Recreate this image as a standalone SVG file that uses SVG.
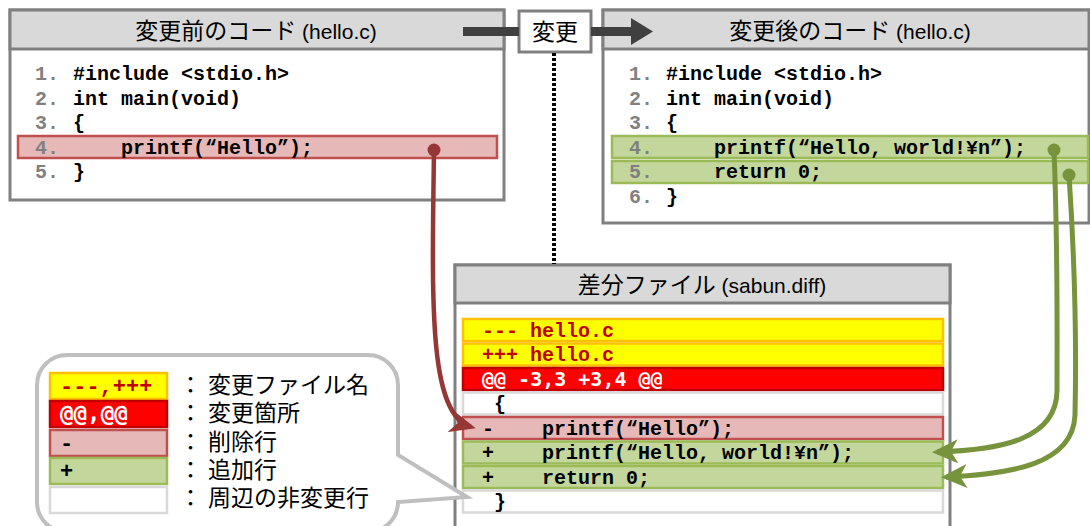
<svg xmlns="http://www.w3.org/2000/svg" width="1090" height="526" viewBox="0 0 1090 526">
<style>
.mono{font-family:"Liberation Mono","Courier New",monospace;font-weight:bold;font-size:20px;fill:#000}
.mono2{font-family:"DejaVu Sans Mono","Liberation Mono",monospace;font-weight:bold;font-size:20px}
.ln{fill:#808080}
.jp{font-family:"Noto Sans CJK JP","Noto Sans CJK SC",sans-serif;font-size:23px;fill:#000}
.lat{font-family:"Liberation Sans",Arial,sans-serif;font-size:21px;fill:#000}
.box{fill:#fff;stroke:#808080;stroke-width:3}
.hdr{fill:#d9d9d9;stroke:#808080;stroke-width:3}
.rowY{fill:#ffff00;stroke:#ffc000;stroke-width:2.5}
.rowR{fill:#ff0000;stroke:#c00000;stroke-width:2.5}
.rowP{fill:#e6b9b8;stroke:#c0504d;stroke-width:2.5}
.rowG{fill:#c3d69b;stroke:#9bbb59;stroke-width:2.5}
.rowW{fill:#fff;stroke:#d9d9d9;stroke-width:2.5}
.dr{fill:#c00000}
.wt{fill:#fff}
.red{fill:none;stroke:#953735;stroke-width:4.5}
.grn{fill:none;stroke:#77933c;stroke-width:5}
</style>
<defs>
<marker id="ahR" viewBox="0 0 26 22" refX="21" refY="11" markerWidth="26" markerHeight="22" markerUnits="userSpaceOnUse" orient="auto"><path d="M0,0 L26,11 L0,22 L7,11 Z" fill="#953735"/></marker>
<marker id="ahG" viewBox="0 0 26 24" refX="21" refY="12" markerWidth="26" markerHeight="24" markerUnits="userSpaceOnUse" orient="auto"><path d="M0,0 L26,12 L0,24 L7,12 Z" fill="#77933c"/></marker>
</defs>

<g id="before">
<rect class="box" x="10" y="10" width="494" height="190"/>
<rect class="hdr" x="10" y="10" width="494" height="39"/>
<text x="256" y="39" text-anchor="middle"><tspan class="jp">変更前のコード</tspan><tspan class="lat"> (hello.c)</tspan></text>
<rect class="rowP" x="18" y="136" width="479" height="22"/>
<text class="mono" y="80"><tspan class="ln" x="35">1.</tspan><tspan x="73">#include &lt;stdio.h&gt;</tspan></text>
<text class="mono" y="104.5"><tspan class="ln" x="35">2.</tspan><tspan x="73">int main(void)</tspan></text>
<text class="mono" y="129"><tspan class="ln" x="35">3.</tspan><tspan x="73">{</tspan></text>
<text class="mono" y="153.5"><tspan class="ln" x="35">4.</tspan><tspan x="121">printf(“Hello”);</tspan></text>
<text class="mono" y="178"><tspan class="ln" x="35">5.</tspan><tspan x="73">}</tspan></text>
</g>

<g id="after">
<rect class="box" x="603" y="10" width="486" height="213"/>
<rect class="hdr" x="603" y="10" width="486" height="39"/>
<text x="850" y="39" text-anchor="middle"><tspan class="jp">変更後のコード</tspan><tspan class="lat"> (hello.c)</tspan></text>
<rect class="rowG" x="612" y="136" width="476" height="22"/>
<rect class="rowG" x="612" y="161" width="476" height="22"/>
<text class="mono" y="80"><tspan class="ln" x="629">1.</tspan><tspan x="666">#include &lt;stdio.h&gt;</tspan></text>
<text class="mono" y="104.5"><tspan class="ln" x="629">2.</tspan><tspan x="666">int main(void)</tspan></text>
<text class="mono" y="129"><tspan class="ln" x="629">3.</tspan><tspan x="666">{</tspan></text>
<text class="mono" y="153.5"><tspan class="ln" x="629">4.</tspan><tspan x="714">printf(“Hello, world!¥n”);</tspan></text>
<text class="mono" y="178"><tspan class="ln" x="629">5.</tspan><tspan x="714">return 0;</tspan></text>
<text class="mono" y="202.5"><tspan class="ln" x="629">6.</tspan><tspan x="666">}</tspan></text>
</g>

<g id="change">
<rect x="519" y="11" width="72" height="41" fill="#fff" stroke="#808080" stroke-width="3"/>
<text class="jp" x="555" y="39.5" text-anchor="middle">変更</text>
</g>

<g id="diff">
<rect class="box" x="455" y="265" width="495" height="275"/>
<rect class="hdr" x="455" y="265" width="495" height="38"/>
<text x="702" y="293" text-anchor="middle"><tspan class="jp">差分ファイル</tspan><tspan class="lat"> (sabun.diff)</tspan></text>
<rect class="rowY" x="463" y="319" width="480" height="22"/>
<rect class="rowY" x="463" y="343.5" width="480" height="22"/>
<rect class="rowR" x="463" y="368" width="480" height="22"/>
<rect class="rowW" x="463" y="392.5" width="480" height="22"/>
<rect class="rowP" x="463" y="417" width="480" height="22"/>
<rect class="rowG" x="463" y="441.5" width="480" height="22"/>
<rect class="rowG" x="463" y="466" width="480" height="22"/>
<rect class="rowW" x="463" y="490.5" width="480" height="22"/>
<text class="mono dr" x="482" y="336.5">--- hello.c</text>
<text class="mono dr" x="482" y="361">+++ hello.c</text>
<text class="mono2 wt" x="482" y="386">@@ -3,3 +3,4 @@</text>
<text class="mono" x="494" y="410">{</text>
<text class="mono" y="434.5"><tspan x="482">-</tspan><tspan x="542">printf(“Hello”);</tspan></text>
<text class="mono" y="459"><tspan x="482">+</tspan><tspan x="542">printf(“Hello, world!¥n”);</tspan></text>
<text class="mono" y="483.5"><tspan x="482">+</tspan><tspan x="542">return 0;</tspan></text>
<text class="mono" x="494" y="508">}</text>
</g>

<g id="legend">
<path d="M67,355 H368 A30,30 0 0 1 398,385 V455 L467,497 L398,502 A30,30 0 0 1 368,532 H67 A30,30 0 0 1 37,502 V385 A30,30 0 0 1 67,355 Z" fill="#fff" stroke="#bfbfbf" stroke-width="4"/>
<rect class="rowY" x="50" y="373" width="117" height="26"/>
<rect class="rowR" x="50" y="401" width="117" height="26"/>
<rect class="rowP" x="50" y="430" width="117" height="26"/>
<rect class="rowG" x="50" y="458" width="117" height="26"/>
<rect class="rowW" x="50" y="487" width="117" height="26"/>
<text class="mono dr" x="60" y="393" style="font-size:22px">---,+++</text>
<text class="mono2 wt" x="60" y="421" style="font-size:22.5px">@@,@@</text>
<text class="mono" x="60" y="450" style="font-size:22px">-</text>
<text class="mono" x="60" y="478" style="font-size:22px">+</text>
<text class="jp" y="393"><tspan x="179">：</tspan><tspan x="208">変更ファイル名</tspan></text>
<text class="jp" y="421"><tspan x="179">：</tspan><tspan x="208">変更箇所</tspan></text>
<text class="jp" y="450"><tspan x="179">：</tspan><tspan x="208">削除行</tspan></text>
<text class="jp" y="478"><tspan x="179">：</tspan><tspan x="208">追加行</tspan></text>
<text class="jp" y="506"><tspan x="179">：</tspan><tspan x="208">周辺の非変更行</tspan></text>
</g>

<g id="connectors">
<rect x="463" y="27" width="56" height="9" fill="#404040"/>
<rect x="591" y="27" width="41" height="9" fill="#404040"/>
<path d="M631,18 L653,31.5 L631,45 Z" fill="#404040"/>
<line x1="554" y1="53" x2="554" y2="264" stroke="#000" stroke-width="4" stroke-dasharray="3 2"/>
<path class="red" d="M434,150 C432,300 428,415 471,427" marker-end="url(#ahR)"/>
<circle cx="434" cy="150" r="6.5" fill="#953735"/>
<path class="grn" d="M1054,150 C1058,250 1057,330 1057,390 C1057,440 1000,450 937,452" marker-end="url(#ahG)"/>
<circle cx="1054" cy="150" r="6.5" fill="#77933c"/>
<path class="grn" d="M1069,175 C1076,280 1076,370 1075,415 C1073,465 1010,474 946,477" marker-end="url(#ahG)"/>
<circle cx="1069" cy="175" r="6.5" fill="#77933c"/>
</g>
</svg>
